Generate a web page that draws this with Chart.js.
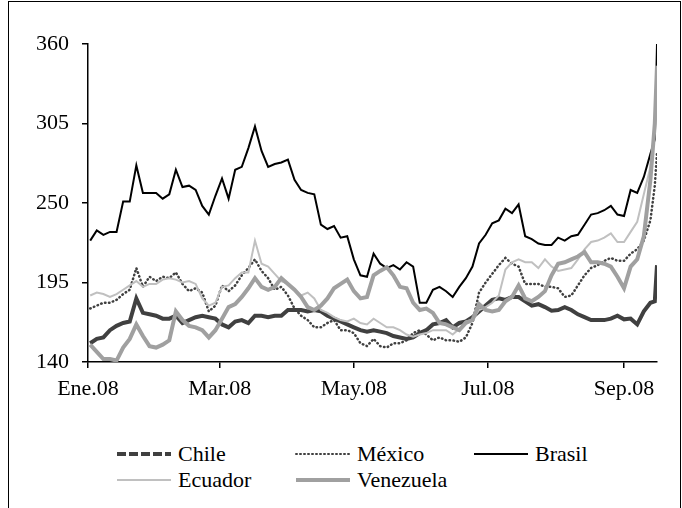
<!DOCTYPE html>
<html>
<head>
<meta charset="utf-8">
<script src="https://cdn.jsdelivr.net/npm/chart.js@4.4.0/dist/chart.umd.min.js"></script>
<style>
  body { margin: 0; background: #fff; overflow: hidden; font-family: 'Liberation Serif', 'Times New Roman', serif; }
  #frame { position: absolute; left: 8px; top: 1px; width: 671px; height: 530px; border: 1.5px solid #000; }
  #wrap { position: absolute; left: 0; top: 0; width: 682px; height: 400px; }
  .item { position: absolute; display: flex; align-items: center; height: 26px; font-size: 22px; color: #000; white-space: nowrap; font-family: 'Liberation Serif', serif; }
  .item svg { margin-right: 6px; }
</style>
</head>
<body>
<div id="frame"></div>
<div id="wrap"><canvas id="myChart"></canvas></div>
<div id="legend"></div>
<script>
// days since 1 Jan 2008
var days = [1,4,7,10,13,16,19,22,25,28,31,34,37,40,43,46,49,52,
  55,58,61,64,67,70,73,76,79,82,85,88,91,94,97,100,103,
  106,109,112,115,118,121,124,127,130,133,136,139,142,145,148,151,154,
  157,160,163,166,169,172,175,178,181,184,187,190,193,196,199,202,205,208,
  211,214,217,220,223,226,229,232,235,238,241,244,247,250,253,256,258,259];

var chile = [153,156,157,162,165,167,168,184,174,173,172,170,170,172,167,169,171,172,
  171,170,166,164,168,169,167,172,172,171,172,172,176,176,176,175,176,
  175,172,170,168,166,164,162,161,162,161,160,158,157,156,157,160,162,
  166,167,169,164,167,168,171,175,179,183,184,183,185,185,182,179,180,178,
  175.5,176,178,176,173,171,169,169,169,170,172,169.5,170,166,175,181,182,207];

var mexico = [177,179,181,181,183,187,190,205,192,199,196,199,198,202,194,189,191,188,
  175,179,193,189,193,200,205,211,203,198,190,192,186,177,172,169,164,
  164,167,169,162,162,160,153,151,156,151,150,153,153,155,160,162,159,
  155,157,155,155,154,157,167,188,195,201,207,212,208,206,194,194,194,192,
  192,191,185,186,193,200,205,207,210,212,210,210,215,218,224,238,262,285];

var brasil = [224,231,228,230,230,251,251,276,257,257,257,253,256,273,261,262,259,248,
  242,255,267,253,273,275,288,303,286,275,277,278,280,266,259,257,256,
  235,232,234,226,227,211,200,199,215,208,205,207,204,209,206,181,181,
  190,192,189,185,192,198,206,222,228,236,238,246,243,249,227,225,222,221,
  221,226,224,227,228,235,242,243,245,248,242,241,259,257,268,284,294,360];

var ecuador = [186,188,187,185,187,190,193,196,192,194,194,197,198,197,195,196,194,184,
  179,181,192,193,198,202,202,224,208,206,201,196,194,190,186,188,184,
  176,174,171,169,168,170,167,166,170,167,164,164,162,159,157.5,159,160,
  162,162,162,159,163,168,169,176,178,181,186,204,209,211,209,209,205,211,
  206,203,204,205,211,218,223,224,226,229,223,223,230,237,256,275,303,338];

var venezuela = [152,147,142,142,141,150,156,166,158,151,150,152,155,175,169,165,164,162,
  157,162,170,178,180,185,191,198,192,190,192,198,194,190,185,178,176,
  179,184,191,194,197,189,184,185,200,203,205.5,200,192,191,181,176,177,
  174,167,166,164,162,167,169,180,176,175,176,182,185,193,184,182,185,189,
  200,208,209,211,213,216,209,209,208,206,199,191,206,211,227,266,305,345];

var tickDays = [0, 60, 121, 182, 244];
var tickLabels = ['Ene.08', 'Mar.08', 'May.08', 'Jul.08', 'Sep.08'];
var yTicks = [140, 195, 250, 305, 360];

function pts(vals) {
  return vals.map(function (v, i) { return { x: days[i], y: v }; });
}

var serif = 'Liberation Serif';

var ctx = document.getElementById('myChart').getContext('2d');
var chart = new Chart(ctx, {
  type: 'line',
  data: {
    datasets: [
      { label: 'Chile', data: pts(chile), borderColor: '#404040', borderWidth: 4, order: 5, legendDash: [9, 3] },
      { label: 'México', data: pts(mexico), borderColor: '#404040', borderWidth: 2.5, borderDash: [0.5, 3.5], borderCapStyle: 'round', order: 4, legendDash: [1, 3] },
      { label: 'Brasil', data: pts(brasil), borderColor: '#000000', borderWidth: 2, order: 3 },
      { label: 'Ecuador', data: pts(ecuador), borderColor: '#c0c0c0', borderWidth: 2, order: 2 },
      { label: 'Venezuela', data: pts(venezuela), borderColor: '#a0a0a0', borderWidth: 4, order: 1 }
    ]
  },
  options: {
    responsive: true,
    maintainAspectRatio: false,
    animation: false,
    layout: { padding: { left: 0, right: 25, top: 44, bottom: 0 } },
    elements: { point: { radius: 0 }, line: { tension: 0 } },
    plugins: { legend: { display: false }, tooltip: { enabled: false } },
    scales: {
      x: {
        type: 'linear',
        min: 0,
        max: 259,
        afterBuildTicks: function (s) { s.ticks = tickDays.map(function (v) { return { value: v }; }); },
        afterFit: function (s) { s.height = 38; },
        ticks: {
          autoSkip: false, maxRotation: 0, padding: 8, color: '#000',
          font: { family: serif, size: 22 },
          callback: function (v, i) { return tickLabels[i]; }
        },
        grid: { display: true, drawOnChartArea: false, drawTicks: true, tickLength: 6, color: '#000', lineWidth: 1.5 },
        border: { color: '#000', width: 1.5 }
      },
      y: {
        min: 140,
        max: 360,
        afterBuildTicks: function (s) { s.ticks = yTicks.map(function (v) { return { value: v }; }); },
        afterFit: function (s) { s.width = 88; },
        ticks: { padding: 13, color: '#000', font: { family: serif, size: 22 } },
        grid: { display: true, drawOnChartArea: false, drawTicks: true, tickLength: 6, color: '#000', lineWidth: 1.5 },
        border: { color: '#000', width: 1.5 }
      }
    }
  }
});

// legend laid out in columns like the original
var cols = [116, 295, 473], rows = [441, 467];
var legend = document.getElementById('legend');
chart.data.datasets.forEach(function (ds, i) {
  var item = document.createElement('div');
  item.className = 'item';
  item.style.left = cols[i % 3] + 'px';
  item.style.top = rows[Math.floor(i / 3)] + 'px';
  var dash = ds.legendDash ? ' stroke-dasharray="' + ds.legendDash.join(' ') + '"' : '';
  var cap = ds.label === 'México' ? ' stroke-linecap="round"' : '';
  item.innerHTML = '<svg width="56" height="8"><line x1="1" y1="4" x2="55" y2="4" stroke="' + ds.borderColor +
    '" stroke-width="' + (ds.label === 'México' ? 2 : ds.borderWidth) + '"' + dash + cap + '/></svg><span>' + ds.label + '</span>';
  legend.appendChild(item);
});
</script>
</body>
</html>
